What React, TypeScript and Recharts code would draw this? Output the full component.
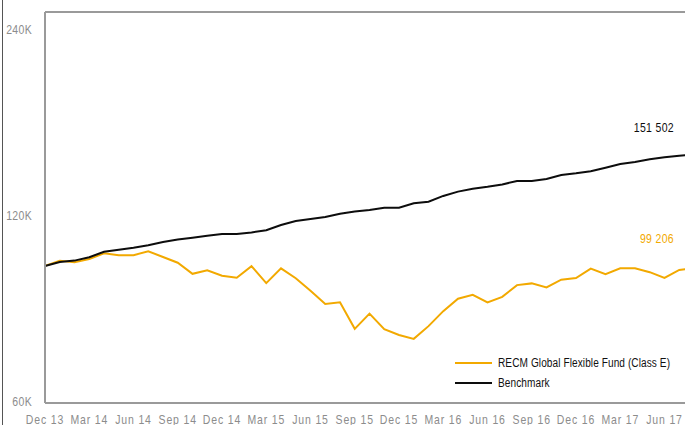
import React from "react";
import {
  LineChart,
  Line,
  XAxis,
  YAxis,
  ReferenceLine,
} from "recharts";

const months = [
  "Dec 13", "Jan 14", "Feb 14", "Mar 14", "Apr 14", "May 14", "Jun 14", "Jul 14", "Aug 14",
  "Sep 14", "Oct 14", "Nov 14", "Dec 14", "Jan 15", "Feb 15", "Mar 15", "Apr 15", "May 15",
  "Jun 15", "Jul 15", "Aug 15", "Sep 15", "Oct 15", "Nov 15", "Dec 15", "Jan 16", "Feb 16",
  "Mar 16", "Apr 16", "May 16", "Jun 16", "Jul 16", "Aug 16", "Sep 16", "Oct 16", "Nov 16",
  "Dec 16", "Jan 17", "Feb 17", "Mar 17", "Apr 17", "May 17", "Jun 17", "Jul 17", "Aug 17",
];

const fundValues = [
  100000, 101900, 101400, 102600, 104800, 104100, 104100, 105600, 103400,
  101200, 97100, 98400, 96400, 95700, 99900, 93800, 99100, 95500,
  91200, 86800, 87300, 79100, 83700, 79000, 77300, 76200, 79900,
  84500, 88500, 89800, 87300, 89100, 93100, 93700, 92300, 95000,
  95600, 99000, 97000, 99100, 99100, 97700, 95600, 98500, 99206,
];

const benchmarkValues = [
  100000, 101500, 102000, 103300, 105400, 106200, 107000, 108000, 109300,
  110300, 111100, 111900, 112600, 112600, 113300, 114200, 116500, 118200,
  119100, 120000, 121500, 122500, 123200, 124200, 124200, 126300, 127000,
  129800, 131900, 133300, 134300, 135500, 137200, 137200, 138300, 140300,
  141200, 142300, 144200, 146200, 147300, 148800, 149900, 150800, 151502,
];

const yTicks = [60000, 120000, 240000];
const yMax = 257600;

const seriesNames = ["RECM Global Flexible Fund (Class E)", "Benchmark"];
const ORANGE = "#f2a900";
const BLACK = "#0d0d0d";
const GRAY = "#9a9a9a";
const TICK_GRAY = "#8c8c8c";
const FONT = "'Liberation Sans', Arial, sans-serif";
const NARROW = 0.84; // squeeze to look like a narrow face

const data = months.map((m, i) => ({
  month: m,
  fund: fundValues[i],
  benchmark: benchmarkValues[i],
}));

const lastIndex = data.length - 1;

const fmtEnd = (v: number) => {
  const s = String(Math.round(v));
  return s.slice(0, s.length - 3) + "  " + s.slice(s.length - 3);
};

// narrow-looking svg text
const NarrowText = ({ x, y, anchor, color, children, spacing = 0, size = 12 }: any) => (
  <g transform={`translate(${x},${y}) scale(${NARROW},1)`}>
    <text
      x={0}
      y={0}
      textAnchor={anchor}
      dominantBaseline="middle"
      fill={color}
      fontSize={size}
      fontFamily={FONT}
      letterSpacing={spacing}
    >
      {children}
    </text>
  </g>
);

const XTick = (props: any) => {
  const { x, y, payload } = props;
  return (
    <NarrowText x={x} y={y + 10} anchor="middle" color={TICK_GRAY} spacing={1} size={12.5}>
      {payload.value}
    </NarrowText>
  );
};

const YTick = (props: any) => {
  const { x, y, payload } = props;
  return (
    <NarrowText x={x} y={y} anchor="end" color={TICK_GRAY} spacing={0.4} size={12.5}>
      {`${payload.value / 1000}K`}
    </NarrowText>
  );
};

const endLabel = (color: string, dy: number) => (props: any) => {
  const { x, y, index, value } = props;
  if (index !== lastIndex) return <g />;
  return (
    <NarrowText x={x - 20} y={y + dy} anchor="end" color={color} spacing={0.4} size={12.5}>
      {fmtEnd(value)}
    </NarrowText>
  );
};

const LegendBox = () => (
  <div
    style={{
      position: "absolute",
      left: 455,
      top: 353,
      fontFamily: FONT,
      fontSize: 12,
      color: "#111",
      whiteSpace: "nowrap",
    }}
  >
    {seriesNames.map((name, i) => (
      <div key={name} style={{ display: "flex", alignItems: "center", height: 20 }}>
        <span
          style={{
            display: "inline-block",
            width: 37,
            height: 2,
            background: i === 0 ? ORANGE : BLACK,
            marginRight: 6,
          }}
        />
        <span
          style={{
            display: "inline-block",
            transform: `scaleX(${NARROW})`,
            transformOrigin: "left center",
            letterSpacing: 0.1,
          }}
        >
          {name}
        </span>
      </div>
    ))}
  </div>
);

export default function App() {
  return (
    <div
      style={{
        position: "fixed",
        left: 0,
        top: 0,
        width: 685,
        height: 425,
        overflow: "hidden",
        background: "#fff",
      }}
    >
      <div
        style={{ position: "absolute", left: 2, top: 0, width: 1, height: 425, background: "#555" }}
      />
      <LineChart
        width={720}
        height={440}
        data={data}
        margin={{ top: 12, right: 26, bottom: 7, left: 0 }}
      >
        <XAxis
          dataKey="month"
          interval={2}
          tickLine={false}
          height={30}
          axisLine={{ stroke: GRAY, strokeWidth: 2 }}
          tick={<XTick />}
        />
        <YAxis
          scale="log"
          domain={[60000, yMax]}
          allowDataOverflow
          ticks={yTicks}
          width={45}
          tickLine={false}
          tickMargin={7}
          axisLine={{ stroke: GRAY, strokeWidth: 2 }}
          tick={<YTick />}
        />
        <ReferenceLine y={yMax} stroke={GRAY} strokeWidth={2} />
        <Line
          type="linear"
          dataKey="fund"
          name={seriesNames[0]}
          stroke={ORANGE}
          strokeWidth={2}
          dot={false}
          isAnimationActive={false}
          label={endLabel(ORANGE, -28)}
        />
        <Line
          type="linear"
          dataKey="benchmark"
          name={seriesNames[1]}
          stroke={BLACK}
          strokeWidth={2}
          dot={false}
          isAnimationActive={false}
          label={endLabel(BLACK, -26)}
        />
      </LineChart>
      <LegendBox />
    </div>
  );
}
